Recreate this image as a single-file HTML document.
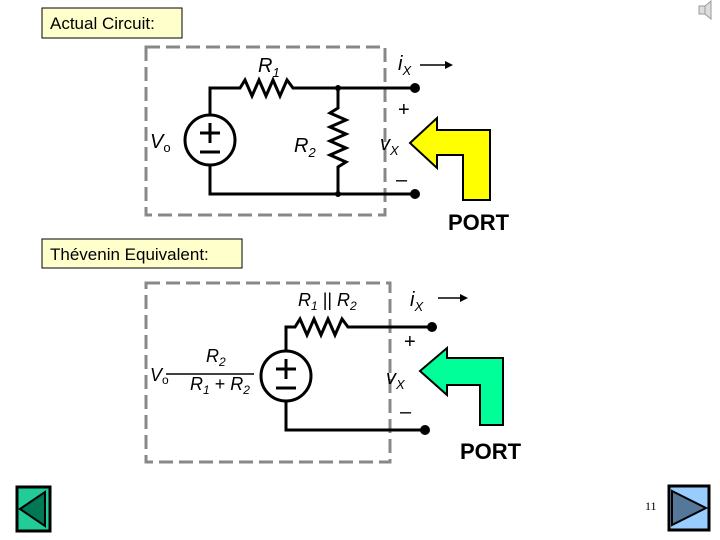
<!DOCTYPE html>
<html><head><style>body{margin:0;background:#fff}svg{display:block}</style></head><body>
<svg width="720" height="540" viewBox="0 0 720 540" font-family="Liberation Sans, sans-serif">
<rect x="42" y="8" width="140" height="30" fill="#ffffcc" stroke="#000"/>
<text x="50" y="29" font-size="17">Actual Circuit:</text>
<rect x="42" y="239" width="200" height="29" fill="#ffffcc" stroke="#000"/>
<text x="50" y="260" font-size="17">Thévenin Equivalent:</text>
<g fill="none" stroke="#888" stroke-width="3" stroke-dasharray="14,6">
<rect x="146" y="47" width="239" height="168"/>
<rect x="146" y="283" width="244" height="179"/>
</g>
<g fill="none" stroke="#000" stroke-width="3">
<path d="M210 115V88H240l5-8 7 16 7-16 7 16 7-16 7 16 7-16 6 8H415"/>
<path d="M210 165V194H415"/>
<circle cx="210" cy="140" r="25"/>
<path d="M338 88V108l-8 5 16 7-16 7 16 7-16 7 16 7-16 7 16 7-8 5V194"/>
<path d="M286 351V327H295l5-8 7 16 7-16 7 16 7-16 7 16 7-16 6 8H432"/>
<path d="M286 401V430H425"/>
<circle cx="286" cy="376" r="25"/>
</g>
<g fill="#000"><circle cx="338" cy="88" r="3"/><circle cx="338" cy="194" r="3"/>
<circle cx="415" cy="88" r="5"/><circle cx="415" cy="194" r="5"/>
<circle cx="432" cy="327" r="5"/><circle cx="425" cy="430" r="5"/></g>
<g stroke="#000" stroke-width="3"><path d="M200 133h20M210 123v20M200 152h20"/><path d="M276 369h20M286 359v20M276 388h20"/></g>
<polygon points="410,143 437,118 437,130 490,130 490,200 463,200 463,155 437,155 437,168" fill="#ffff00" stroke="#000" stroke-width="2"/>
<polygon points="420,371 447,348 447,358 503,358 503,425 480,425 480,385 447,385 447,395" fill="#00ff99" stroke="#000" stroke-width="2"/>
<g font-size="20" font-style="italic">
<text x="258" y="72">R<tspan font-size="13" dy="5">1</tspan></text>
<text x="294" y="152">R<tspan font-size="13" dy="5">2</tspan></text>
<text x="398" y="70">i<tspan font-size="13" dy="5">X</tspan></text>
<text x="380" y="150">v<tspan font-size="13" dy="5">X</tspan></text>
<text x="150" y="148">V<tspan font-size="13" dy="4" font-style="normal">o</tspan></text>
<text x="298" y="306" font-size="18">R<tspan font-size="12" dy="4">1</tspan><tspan dy="-4" font-style="normal"> || </tspan>R<tspan font-size="12" dy="4">2</tspan></text>
<text x="410" y="306">i<tspan font-size="13" dy="5">X</tspan></text>
<text x="386" y="384">v<tspan font-size="13" dy="5">X</tspan></text>
<text x="150" y="381" font-size="18">V<tspan font-size="12" dy="3" font-style="normal">o</tspan></text>
<text x="206" y="362" font-size="18">R<tspan font-size="12" dy="4">2</tspan></text>
<text x="190" y="390" font-size="18">R<tspan font-size="12" dy="4">1</tspan><tspan dy="-4" font-style="normal"> + </tspan>R<tspan font-size="12" dy="4">2</tspan></text>
</g>
<path d="M166 374h88" stroke="#000" stroke-width="1.5"/>
<g font-size="20"><text x="398" y="116">+</text><text x="396" y="186">–</text><text x="404" y="348">+</text><text x="400" y="418">–</text></g>
<path d="M420 65h25M338 298h0M438 298h22" stroke="#000" stroke-width="1.5"/>
<polygon points="445,61 453,65 445,69"/><polygon points="460,294 468,298 460,302"/>
<text x="448" y="230" font-size="22" font-weight="bold">PORT</text>
<text x="460" y="459" font-size="22" font-weight="bold">PORT</text>
<rect x="17" y="487" width="33" height="44" fill="#22cc99" stroke="#000" stroke-width="3"/>
<polygon points="20,509 45,492 45,526" fill="#007755" stroke="#000" stroke-width="2"/>
<rect x="669" y="486" width="40" height="44" fill="#99ccff" stroke="#000" stroke-width="3"/>
<polygon points="672,491 706,508 672,525" fill="#557799" stroke="#000" stroke-width="2"/>
<text x="645" y="510" font-size="12" font-family="Liberation Serif, serif">11</text>
<g fill="#ddd" stroke="#999"><rect x="699" y="6" width="6" height="8"/><polygon points="705,6 711,1 711,19 705,14"/></g>
</svg>
</body></html>
